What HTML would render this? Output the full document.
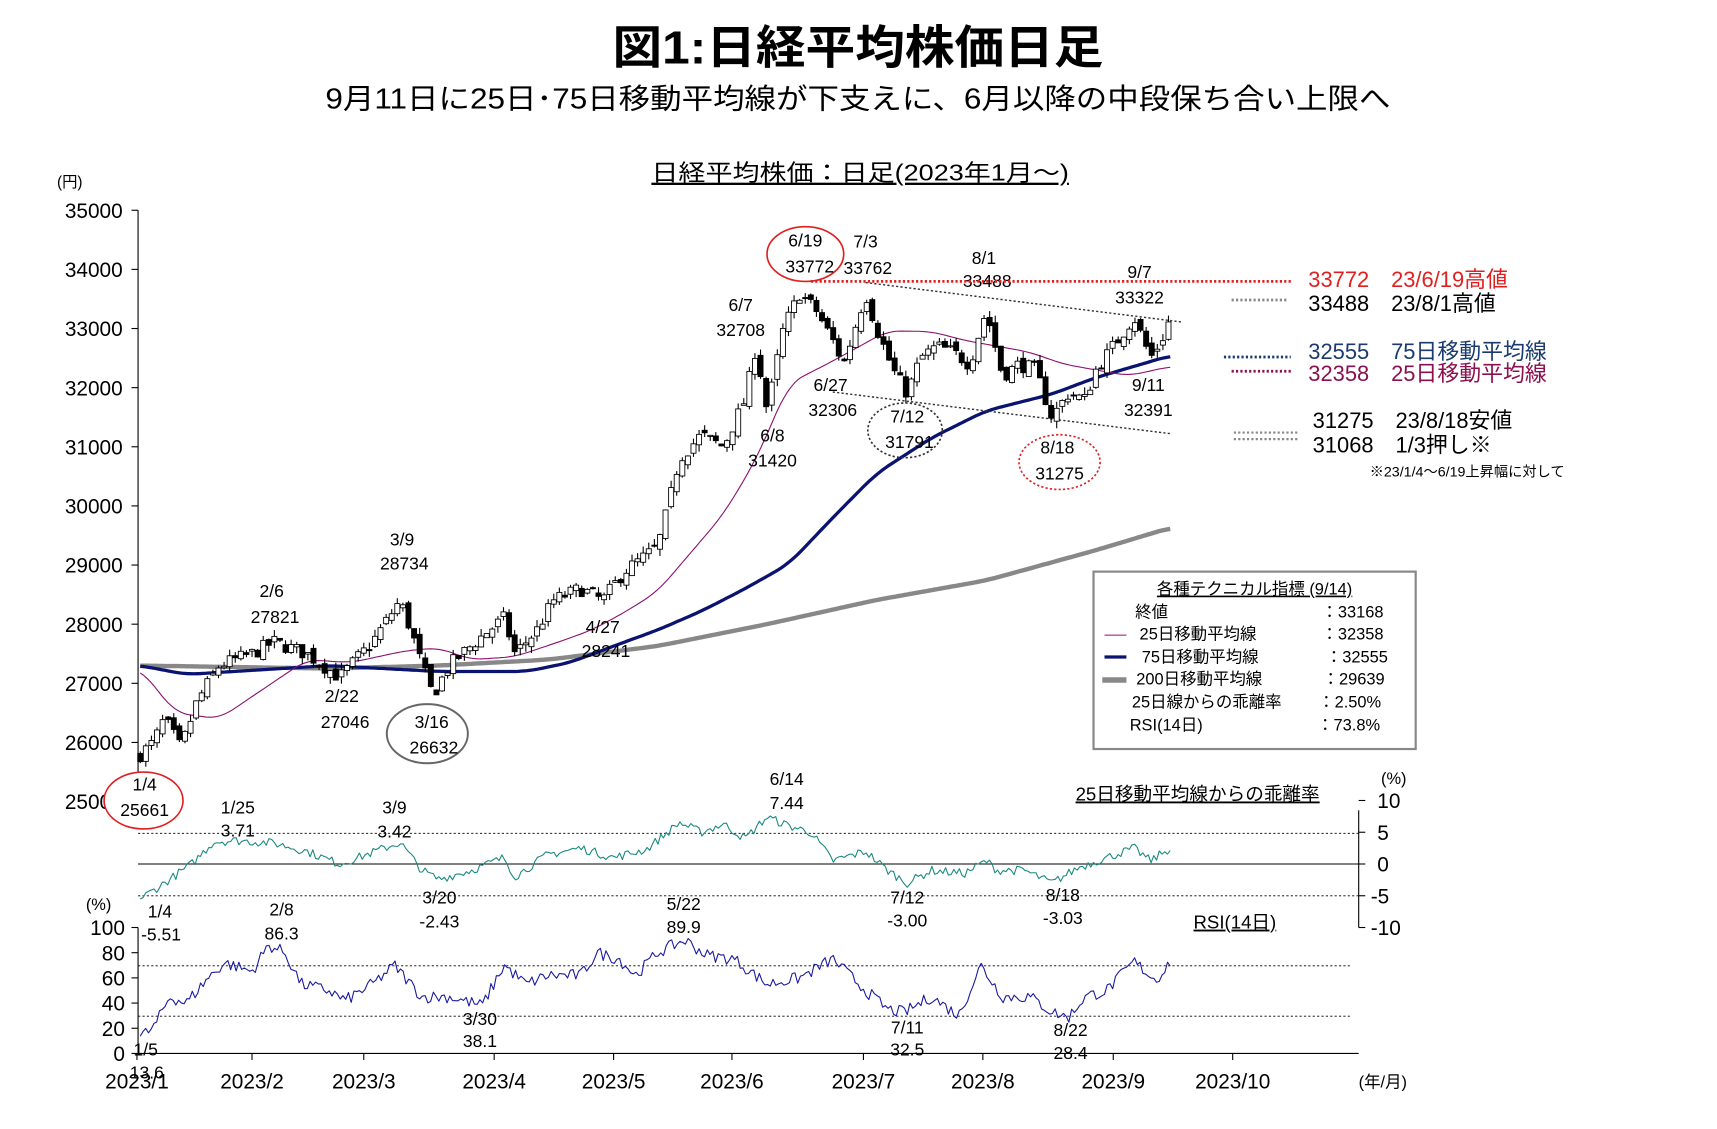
<!DOCTYPE html>
<html><head><meta charset="utf-8"><style>
html,body{margin:0;padding:0;background:#fff;}
svg{display:block;font-family:"Liberation Sans","Noto Sans CJK JP",sans-serif;}
</style></head><body>
<svg id="s" width="1717" height="1129" viewBox="0 0 1567 1031" preserveAspectRatio="none" xmlns="http://www.w3.org/2000/svg">
<rect width="1567" height="1031" fill="#fff"/>
<text x="783" y="58" font-size="42" font-weight="bold" text-anchor="middle" textLength="448" lengthAdjust="spacingAndGlyphs">図1:日経平均株価日足</text>
<text x="783" y="99" font-size="26" text-anchor="middle" textLength="972" lengthAdjust="spacingAndGlyphs">9月11日に25日･75日移動平均線が下支えに、6月以降の中段保ち合い上限へ</text>
<text x="785" y="165" font-size="21" text-anchor="middle" text-decoration="underline" textLength="381" lengthAdjust="spacingAndGlyphs">日経平均株価：日足(2023年1月～)</text>
<text x="52" y="171" font-size="14">(円)</text>
<g id="axes" stroke="#000" stroke-width="1"></g>
<g id="lbl" font-size="19" text-anchor="end"></g>
<g id="plot"></g>
<g font-size="16" text-anchor="middle">
<text x="367" y="498">3/9</text><text x="369" y="520">28734</text>
<text x="248" y="545">2/6</text><text x="251" y="569">27821</text>
<text x="312" y="641">2/22</text><text x="315" y="665">27046</text>
<text x="550" y="578">4/27</text><text x="553" y="600">28241</text>
<text x="676" y="284">6/7</text><text x="676" y="307">32708</text>
<text x="705" y="403">6/8</text><text x="705" y="426">31420</text>
<text x="790" y="226">7/3</text><text x="792" y="250">33762</text>
<text x="758" y="357">6/27</text><text x="760" y="380">32306</text>
<text x="898" y="241">8/1</text><text x="901" y="262">33488</text>
<text x="1040" y="254">9/7</text><text x="1040" y="277">33322</text>
<text x="1048" y="357">9/11</text><text x="1048" y="380">32391</text>
<text x="217" y="743">1/25</text><text x="217" y="764">3.71</text>
<text x="360" y="743">3/9</text><text x="360" y="765">3.42</text>
<text x="718" y="717">6/14</text><text x="718" y="739">7.44</text>
<text x="401" y="825">3/20</text><text x="401" y="847">-2.43</text>
<text x="828" y="825">7/12</text><text x="828" y="846">-3.00</text>
<text x="970" y="823">8/18</text><text x="970" y="844">-3.03</text>
<text x="146" y="838">1/4</text><text x="147" y="859">-5.51</text>
<text x="257" y="836">2/8</text><text x="257" y="858">86.3</text>
<text x="624" y="831">5/22</text><text x="624" y="852">89.9</text>
<text x="438" y="936">3/30</text><text x="438" y="956">38.1</text>
<text x="828" y="944">7/11</text><text x="828" y="964">32.5</text>
<text x="977" y="946">8/22</text><text x="977" y="967">28.4</text>
<text x="133" y="964">1/5</text><text x="134" y="985">13.6</text>
</g>
<ellipse cx="735" cy="232" rx="35" ry="25" fill="none" stroke="#e02020" stroke-width="1.5"/>
<text x="735" y="225" font-size="16" text-anchor="middle">6/19</text><text x="739" y="249" font-size="16" text-anchor="middle">33772</text>
<ellipse cx="131" cy="731" rx="36" ry="26" fill="#fff" stroke="#e02020" stroke-width="1.5"/>
<text x="132" y="722" font-size="16" text-anchor="middle">1/4</text><text x="132" y="745" font-size="16" text-anchor="middle">25661</text>
<ellipse cx="390" cy="670" rx="37" ry="27" fill="none" stroke="#666" stroke-width="1.8"/>
<text x="394" y="665" font-size="16" text-anchor="middle">3/16</text><text x="396" y="688" font-size="16" text-anchor="middle">26632</text>
<ellipse cx="826" cy="393" rx="34" ry="25" fill="none" stroke="#333" stroke-width="1.5" stroke-dasharray="2,2"/>
<text x="828" y="386" font-size="16" text-anchor="middle">7/12</text><text x="830" y="409" font-size="16" text-anchor="middle">31791</text>
<ellipse cx="967" cy="422" rx="37" ry="25" fill="none" stroke="#e02020" stroke-width="1.5" stroke-dasharray="2,2"/>
<text x="965" y="414" font-size="16" text-anchor="middle">8/18</text><text x="967" y="438" font-size="16" text-anchor="middle">31275</text>
<line x1="740" y1="257" x2="1178" y2="257" stroke="#e02020" stroke-width="2.5" stroke-dasharray="2,2"/>
<line x1="1124" y1="274" x2="1176" y2="274" stroke="#888" stroke-width="2.5" stroke-dasharray="2,2"/>
<line x1="1117" y1="326" x2="1178" y2="326" stroke="#1a3a70" stroke-width="2.5" stroke-dasharray="2,2"/>
<line x1="1124" y1="339" x2="1178" y2="339" stroke="#8b1050" stroke-width="2.5" stroke-dasharray="2,2"/>
<line x1="1126" y1="395" x2="1184" y2="395" stroke="#888" stroke-width="2" stroke-dasharray="2,2"/>
<line x1="1126" y1="401" x2="1184" y2="401" stroke="#888" stroke-width="2" stroke-dasharray="2,2"/>
<g font-size="20">
<text x="1194" y="262" fill="#e02020">33772　23/6/19高値</text>
<text x="1194" y="284">33488　23/8/1高値</text>
<text x="1194" y="328" fill="#1a3a70">32555　75日移動平均線</text>
<text x="1194" y="348" fill="#8b1050">32358　25日移動平均線</text>
<text x="1198" y="391">31275　23/8/18安値</text>
<text x="1198" y="413">31068　1/3押し※</text>
</g>
<text x="1250" y="435" font-size="13">※23/1/4～6/19上昇幅に対して</text>
<rect x="998" y="522" width="294" height="162" fill="#fff" stroke="#888" stroke-width="2"/>
<g font-size="15">
<text x="1145" y="543" text-anchor="middle" text-decoration="underline">各種テクニカル指標 (9/14)</text>
<text x="1036" y="564">終値</text><text x="1206" y="564">：33168</text>
<text x="1040" y="584">25日移動平均線</text><text x="1206" y="584">：32358</text>
<text x="1042" y="605">75日移動平均線</text><text x="1210" y="605">：32555</text>
<text x="1037" y="625">200日移動平均線</text><text x="1207" y="625">：29639</text>
<text x="1033" y="646">25日線からの乖離率</text><text x="1203" y="646">：2.50%</text>
<text x="1031" y="667">RSI(14日)</text><text x="1202" y="667">：73.8%</text>
</g>
<line x1="1008" y1="580" x2="1028" y2="580" stroke="#8b1070" stroke-width="1"/>
<line x1="1008" y1="600" x2="1028" y2="600" stroke="#0a1470" stroke-width="3"/>
<line x1="1006" y1="621" x2="1028" y2="621" stroke="#888" stroke-width="5"/>
<text x="1093" y="731" font-size="17" text-anchor="middle" text-decoration="underline">25日移動平均線からの乖離率</text>
<text x="1127" y="848" font-size="17" text-anchor="middle" text-decoration="underline">RSI(14日)</text>
<text x="1272" y="716" font-size="15" text-anchor="middle">(%)</text>
<text x="90" y="831" font-size="15" text-anchor="middle">(%)</text>
<g font-size="19">
<text x="1257" y="738">10</text><text x="1257" y="767">5</text><text x="1257" y="796">0</text><text x="1251" y="825">-5</text><text x="1251" y="854">-10</text>
</g>
<g font-size="19" text-anchor="middle">
<text x="125" y="994">2023/1</text><text x="230" y="994">2023/2</text><text x="332" y="994">2023/3</text><text x="451" y="994">2023/4</text><text x="560" y="994">2023/5</text><text x="668" y="994">2023/6</text><text x="788" y="994">2023/7</text><text x="897" y="994">2023/8</text><text x="1016" y="994">2023/9</text><text x="1125" y="994">2023/10</text>
</g>
<text x="1262" y="993" font-size="15" text-anchor="middle">(年/月)</text>
<g font-size="19" text-anchor="end">
<text x="114" y="854">100</text><text x="114" y="877">80</text><text x="114" y="900">60</text><text x="114" y="923">40</text><text x="114" y="946">20</text><text x="114" y="969">0</text>
</g>
</svg>
<script>
(function(){
var NS="http://www.w3.org/2000/svg",s=document.getElementById('plot'),ax=document.getElementById('axes'),lb=document.getElementById('lbl');
function el(t,a,p){var e=document.createElementNS(NS,t);for(var k in a)e.setAttribute(k,a[k]);(p||s).appendChild(e);return e;}
function Y(p){return 192+(35000-p)*0.054;}
function interp(K,x){for(var i=0;i<K.length-1;i++){if(x<=K[i+1][0]){var t=(x-K[i][0])/(K[i+1][0]-K[i][0]);return K[i][1]+t*(K[i+1][1]-K[i][1]);}}return K[K.length-1][1];}
function smooth(K,x){var w=12,sum=0,n=0;for(var d=-w;d<=w;d+=2){var xx=Math.min(Math.max(x+d,K[0][0]),K[K.length-1][0]);sum+=interp(K,xx);n++;}return sum/n;}
var seed=7;function rnd(){seed=(seed*16807)%2147483647;return seed/2147483647;}
el('line',{x1:126,y1:192,x2:126,y2:740},ax);
for(var v=35000;v>=25000;v-=1000){var y=Y(v);el('line',{x1:120,y1:y,x2:126,y2:y},ax);
 var t=el('text',{x:112,y:y+7},lb);t.textContent=v;}
el('line',{x1:1240,y1:740,x2:1240,y2:847,stroke:'#000'});
[731,760,789,818,847].forEach(function(y){el('line',{x1:1240,y1:y,x2:1246,y2:y,stroke:'#000'});});
el('line',{x1:126,y1:789,x2:1240,y2:789,stroke:'#000'});
el('line',{x1:126,y1:761,x2:1240,y2:761,stroke:'#000','stroke-dasharray':'2,2','stroke-width':0.8});
el('line',{x1:126,y1:818,x2:1240,y2:818,stroke:'#000','stroke-dasharray':'2,2','stroke-width':0.8});
el('line',{x1:126,y1:847,x2:126,y2:962,stroke:'#000'});
el('line',{x1:126,y1:962,x2:1240,y2:962,stroke:'#000'});
for(var r=0;r<=100;r+=20){var y=962-r*1.15;el('line',{x1:120,y1:y,x2:126,y2:y,stroke:'#000'});}
[125,230,332,451,560,668,788,897,1016,1125].forEach(function(x){el('line',{x1:x,y1:962,x2:x,y2:968,stroke:'#000'});});
el('line',{x1:126,y1:882,x2:1234,y2:882,stroke:'#000','stroke-dasharray':'2,2','stroke-width':0.8});
el('line',{x1:126,y1:928,x2:1234,y2:928,stroke:'#000','stroke-dasharray':'2,2','stroke-width':0.8});
function poly(K,fy,col,w,noise,sm){var pts=[];for(var x=K[0][0];x<=K[K.length-1][0];x+=2.5){var v=(sm?smooth(K,x):interp(K,x))+(noise?(rnd()-0.5)*noise:0);pts.push(x.toFixed(1)+','+fy(v).toFixed(1));}
 el('polyline',{points:pts.join(' '),fill:'none',stroke:col,'stroke-width':w,'stroke-linejoin':'round'});}
var M200=[[128,27300],[300,27250],[400,27300],[500,27400],[600,27630],[700,28000],[800,28410],[900,28740],[1000,29250],[1068,29630]];
var M75=[[128,27300],[170,27150],[300,27300],[400,27200],[480,27200],[520,27350],[560,27630],[600,27900],[640,28220],[680,28600],[720,29020],[760,29800],[800,30550],[850,31150],[900,31610],[960,31890],[1000,32170],[1068,32540]];
var M25=[[128,27250],[160,26500],[200,26400],[240,26900],[280,27400],[320,27350],[370,27550],[400,27600],[430,27400],[470,27450],[510,27700],[540,27900],[570,28200],[600,28550],[630,29200],[660,29850],[690,30780],[720,32070],[760,32450],[810,32960],[850,32950],[880,32800],[910,32700],[940,32600],[970,32400],[1000,32300],[1030,32200],[1068,32358]];
poly(M200,Y,'#888',4,0,1);poly(M75,Y,'#0a1470',3,0,1);poly(M25,Y,'#8b1070',1,0,1);
el('line',{x1:790,y1:258,x2:1078,y2:294,stroke:'#333','stroke-dasharray':'2,2','stroke-width':1.3});
el('line',{x1:760,y1:358,x2:1068,y2:396,stroke:'#333','stroke-dasharray':'2,2','stroke-width':1.3});
var P=[[128,25800],[140,26000],[150,26400],[165,25900],[180,26700],[200,27300],[230,27500],[250,27700],[280,27500],[310,27100],[340,27700],[365,28400],[375,27900],[385,27300],[395,26800],[410,27300],[440,27800],[460,28100],[470,27500],[490,27900],[505,28400],[530,28600],[550,28400],[570,28900],[600,29300],[610,30000],[620,30800],[640,31200],[660,31000],[680,31800],[690,32700],[700,31600],[715,33000],[730,33600],[745,33300],[760,32800],[770,32400],[790,33600],[800,33000],[815,32300],[828,31900],[840,32500],[855,32700],[870,32600],[885,32400],[900,33300],[915,32200],[930,32400],[945,32300],[960,31500],[975,31900],[990,31800],[1000,32300],[1020,32800],[1035,33200],[1050,32500],[1060,32800],[1068,33168]];
var prev=25750;
for(var x=128;x<=1069;x+=5.1){var c=interp(P,x)+(rnd()-0.5)*250;var o=prev+(rnd()-0.5)*150;var hi=Math.max(o,c)+rnd()*120,lo=Math.min(o,c)-rnd()*120;
 el('line',{x1:x,y1:Y(hi),x2:x,y2:Y(lo),stroke:'#000','stroke-width':1});
 var top=Y(Math.max(o,c)),h=Math.max(1,Math.abs(Y(o)-Y(c)));
 el('rect',{x:x-2.3,y:top,width:4.6,height:h,fill:c>=o?'#fff':'#000',stroke:'#000','stroke-width':0.8});prev=c;}
var D=[[128,-5.5],[150,-3],[175,0],[195,3.5],[215,3.7],[250,3.3],[280,2],[310,0],[335,1.5],[365,3.4],[385,-1],[400,-2.4],[430,-1],[460,1],[470,-2],[500,1.5],[530,2.5],[560,1],[590,2.3],[620,6.5],[640,5],[660,6.3],[680,4],[700,7.4],[720,6],[740,5],[760,0.5],[790,2],[810,-1],[828,-3],[850,-1],[880,-1.5],[900,0.5],[910,-1],[935,-1],[960,-3],[985,-0.5],[1010,1],[1035,2.5],[1050,0.5],[1068,2.5]];
poly(D,function(v){return 789-v*5.8;},'#1a8a80',1,1.4);
var R=[[128,13.6],[140,20],[155,45],[170,40],[190,60],[205,72],[230,65],[245,86],[260,80],[275,55],[300,50],[315,42],[340,55],[360,70],[385,45],[410,45],[440,38],[460,70],[480,55],[500,62],[530,62],[545,80],[565,75],[580,62],[600,80],[625,90],[645,78],[670,75],[700,55],[730,60],[760,75],[790,50],[810,35],[825,32.5],[850,45],[875,30],[895,70],[915,45],[940,45],[960,33],[975,28.4],[990,45],[1010,50],[1035,73],[1055,58],[1068,73]];
poly(R,function(v){return 962-v*1.15;},'#1a1aa0',1,10);
})();
</script>
</body></html>
